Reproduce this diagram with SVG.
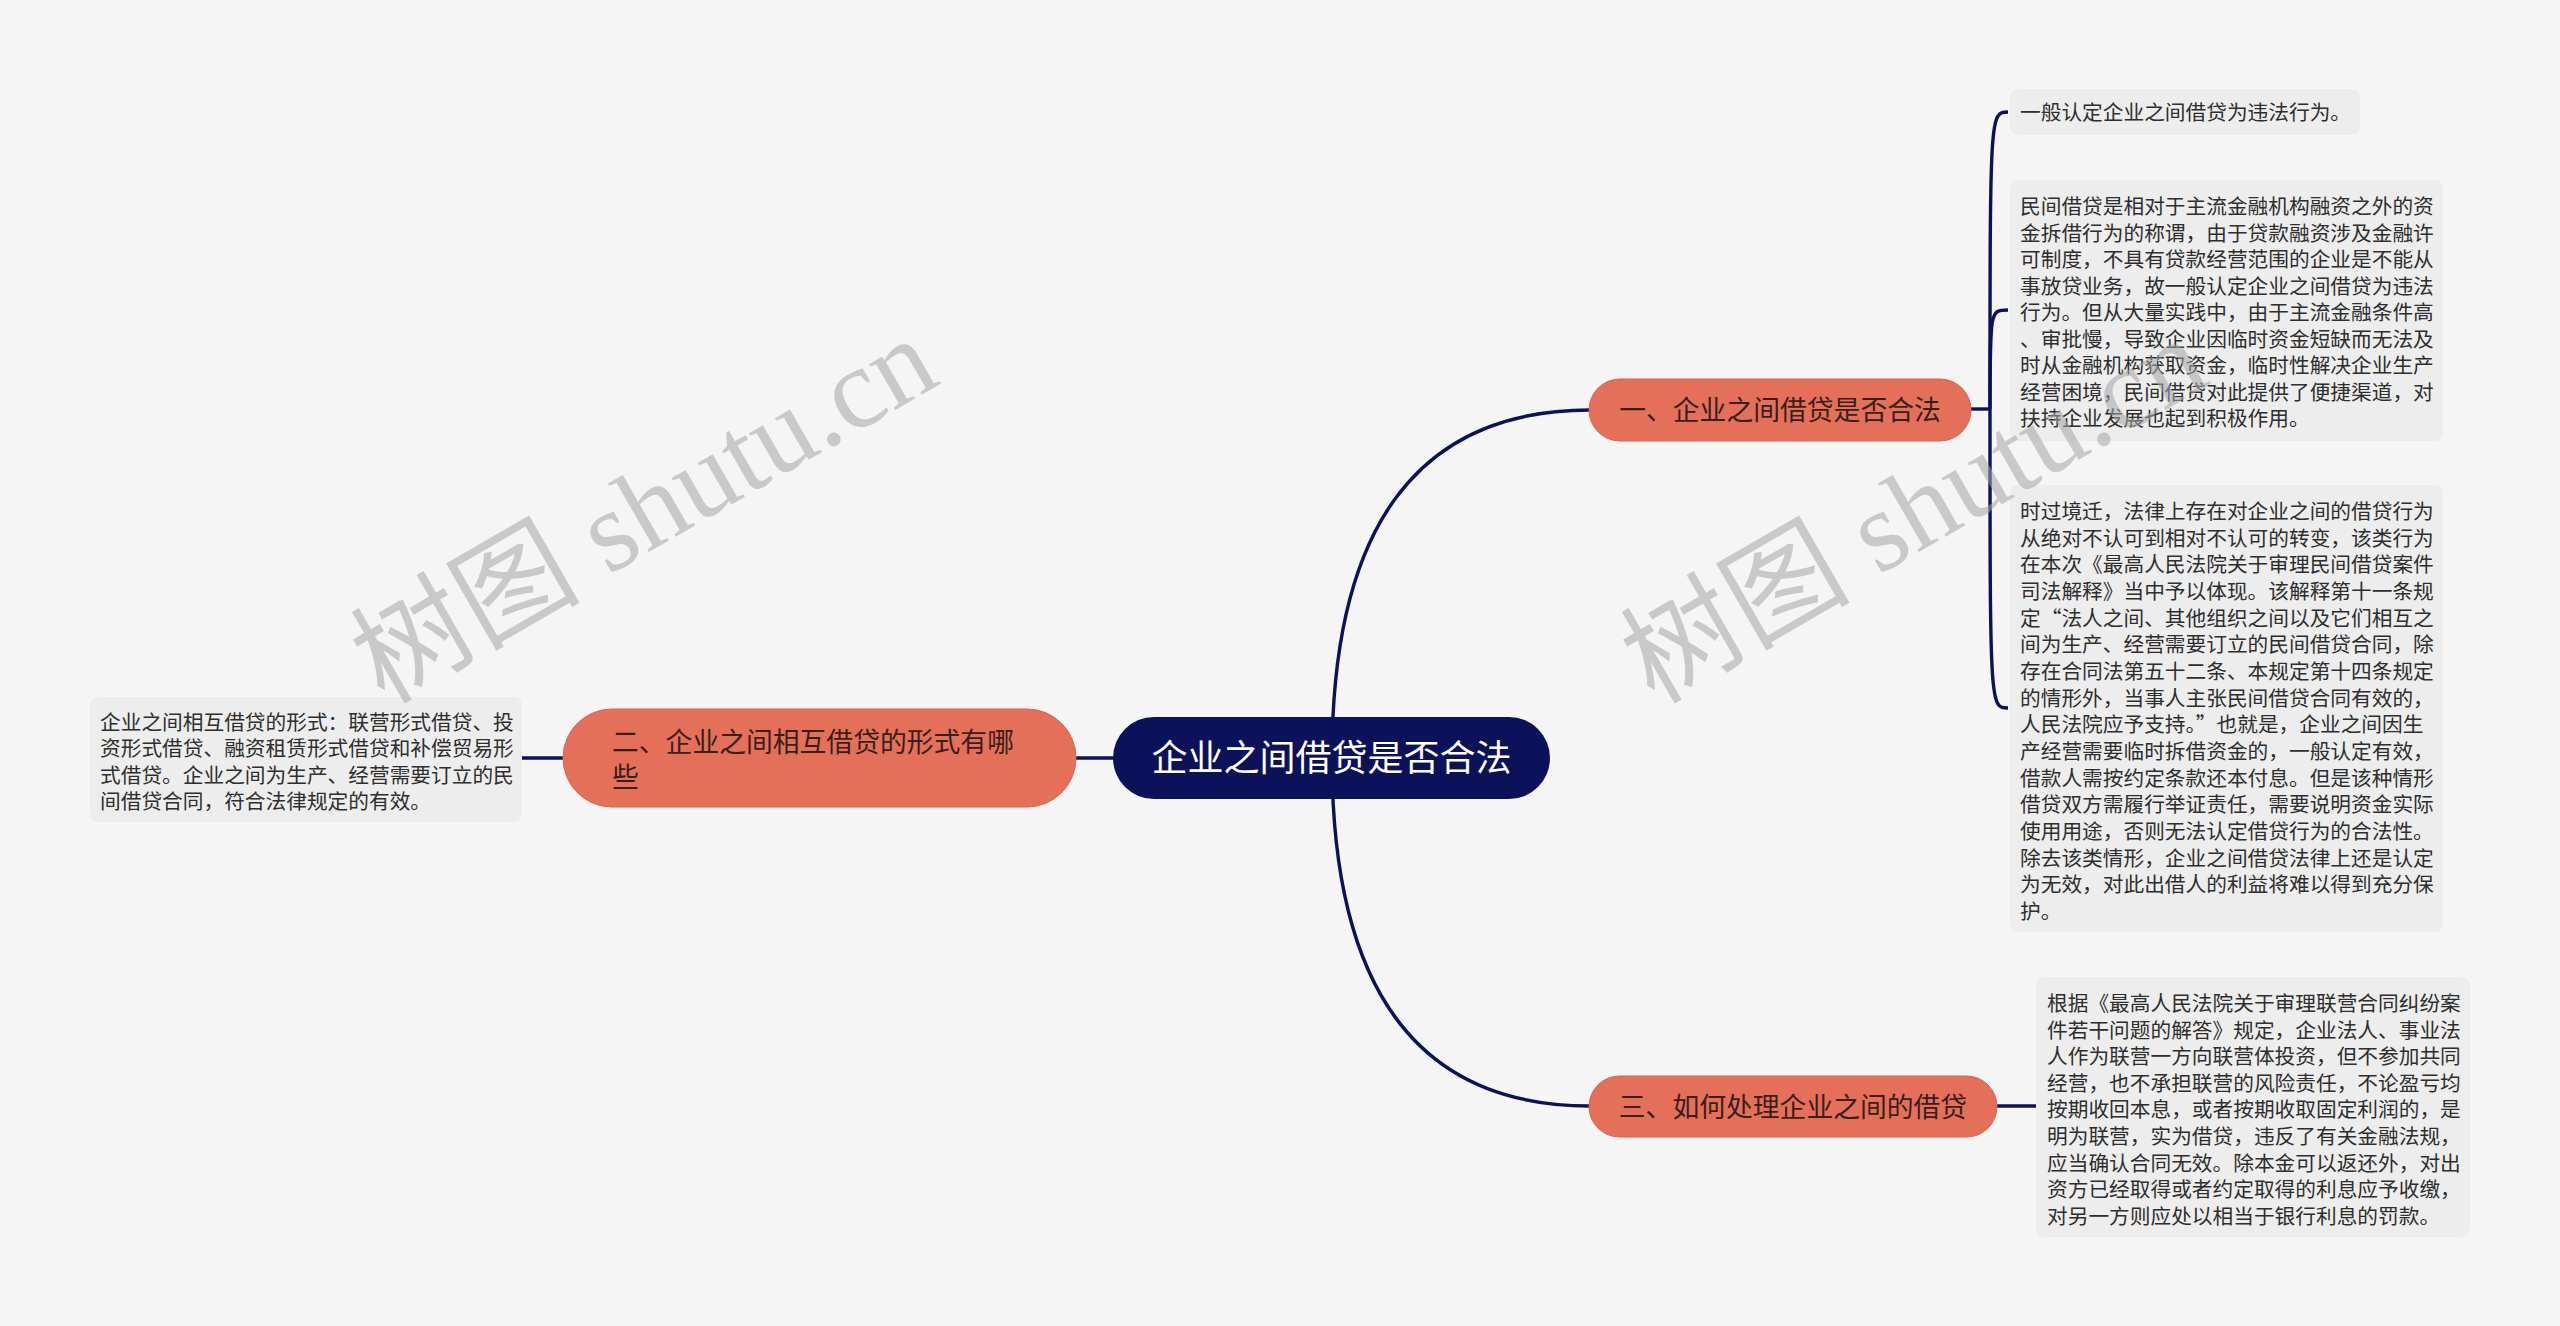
<svg xmlns="http://www.w3.org/2000/svg" width="2560" height="1326" viewBox="0 0 2560 1326">
<style>
text{font-family:"Noto Sans CJK SC","Noto Sans",sans-serif}
.conn{fill:none;stroke:#0c1259;stroke-width:3.4}
.root rect{fill:#0c1259}
.root text{fill:#ffffff;font-size:36px}
.br rect{fill:#e4705a;stroke:#d9644f;stroke-width:1}
.br text{fill:#3a1e1a;font-size:26.8px}
.leaf rect{fill:#ededed}
.leaf text{fill:#2e2e2e;font-size:20.7px}
.wm{font-family:"Liberation Serif","Noto Sans CJK SC",serif;font-size:115px;fill:#a6a6a6;opacity:0.55}
</style>
<rect width="2560" height="1326" fill="#f5f5f5"/>

<g id="connectors">
<path class="conn" d="M1332 758 Q1332 410 1590 410"/>
<path class="conn" d="M1332 758 Q1332 1106 1590 1106"/>
<path class="conn" d="M1076 758 H1113"/>
<path class="conn" d="M522 758 H563"/>
<path class="conn" d="M1971 409 H1990"/>
<path class="conn" d="M1990 409 C1990 112 1990 112 2008 112"/>
<path class="conn" d="M1990 409 C1990 310 1990 310 2008 310"/>
<path class="conn" d="M1990 409 C1990 708 1990 708 2008 708"/>
<path class="conn" d="M1997 1106 H2036"/>
</g>

<g id="root" class="root">
<rect x="1113" y="717" width="437" height="82" rx="41"/>
<text x="1331.5" y="771" text-anchor="middle">企业之间借贷是否合法</text>
</g>

<g id="branch1" class="br">
<rect x="1589" y="379" width="382" height="62" rx="31"/>
<text x="1780" y="420" text-anchor="middle">一、企业之间借贷是否合法</text>
</g>

<g id="branch2" class="br">
<rect x="563" y="709" width="513" height="98" rx="49"/>
<text x="612" y="752">二、企业之间相互借贷的形式有哪<tspan x="612" y="787">些</tspan></text>
</g>

<g id="branch3" class="br">
<rect x="1589" y="1076" width="408" height="61" rx="30.5"/>
<text x="1793" y="1117" text-anchor="middle">三、如何处理企业之间的借贷</text>
</g>

<g id="leaf1" class="leaf">
<rect x="2010" y="89" width="350" height="46" rx="8"/>
<text x="2020" y="120">一般认定企业之间借贷为违法行为。</text>
</g>

<g id="leaf2" class="leaf">
<rect x="2010" y="180" width="433" height="261" rx="8"/>
<text x="2020" y="214">民间借贷是相对于主流金融机构融资之外的资<tspan x="2020" dy="26.5">金拆借行为的称谓，由于贷款融资涉及金融许</tspan><tspan x="2020" dy="26.5">可制度，不具有贷款经营范围的企业是不能从</tspan><tspan x="2020" dy="26.5">事放贷业务，故一般认定企业之间借贷为违法</tspan><tspan x="2020" dy="26.5">行为。但从大量实践中，由于主流金融条件高</tspan><tspan x="2020" dy="26.5">、审批慢，导致企业因临时资金短缺而无法及</tspan><tspan x="2020" dy="26.5">时从金融机构获取资金，临时性解决企业生产</tspan><tspan x="2020" dy="26.5">经营困境，民间借贷对此提供了便捷渠道，对</tspan><tspan x="2020" dy="26.5">扶持企业发展也起到积极作用。</tspan></text>
</g>

<g id="leaf3" class="leaf">
<rect x="2010" y="485" width="433" height="447" rx="8"/>
<text x="2020" y="519">时过境迁，法律上存在对企业之间的借贷行为<tspan x="2020" dy="26.67">从绝对不认可到相对不认可的转变，该类行为</tspan><tspan x="2020" dy="26.67">在本次《最高人民法院关于审理民间借贷案件</tspan><tspan x="2020" dy="26.67">司法解释》当中予以体现。该解释第十一条规</tspan><tspan x="2020" dy="26.67">定“法人之间、其他组织之间以及它们相互之</tspan><tspan x="2020" dy="26.67">间为生产、经营需要订立的民间借贷合同，除</tspan><tspan x="2020" dy="26.67">存在合同法第五十二条、本规定第十四条规定</tspan><tspan x="2020" dy="26.67">的情形外，当事人主张民间借贷合同有效的，</tspan><tspan x="2020" dy="26.67">人民法院应予支持。”也就是，企业之间因生</tspan><tspan x="2020" dy="26.67">产经营需要临时拆借资金的，一般认定有效，</tspan><tspan x="2020" dy="26.67">借款人需按约定条款还本付息。但是该种情形</tspan><tspan x="2020" dy="26.67">借贷双方需履行举证责任，需要说明资金实际</tspan><tspan x="2020" dy="26.67">使用用途，否则无法认定借贷行为的合法性。</tspan><tspan x="2020" dy="26.67">除去该类情形，企业之间借贷法律上还是认定</tspan><tspan x="2020" dy="26.67">为无效，对此出借人的利益将难以得到充分保</tspan><tspan x="2020" dy="26.67">护。</tspan></text>
</g>

<g id="leaf4" class="leaf">
<rect x="2036" y="977" width="434" height="260" rx="8"/>
<text x="2047" y="1011">根据《最高人民法院关于审理联营合同纠纷案<tspan x="2047" dy="26.6">件若干问题的解答》规定，企业法人、事业法</tspan><tspan x="2047" dy="26.6">人作为联营一方向联营体投资，但不参加共同</tspan><tspan x="2047" dy="26.6">经营，也不承担联营的风险责任，不论盈亏均</tspan><tspan x="2047" dy="26.6">按期收回本息，或者按期收取固定利润的，是</tspan><tspan x="2047" dy="26.6">明为联营，实为借贷，违反了有关金融法规，</tspan><tspan x="2047" dy="26.6">应当确认合同无效。除本金可以返还外，对出</tspan><tspan x="2047" dy="26.6">资方已经取得或者约定取得的利息应予收缴，</tspan><tspan x="2047" dy="26.6">对另一方则应处以相当于银行利息的罚款。</tspan></text>
</g>

<g id="leaf5" class="leaf">
<rect x="90" y="697" width="432" height="125" rx="8"/>
<text x="100" y="730">企业之间相互借贷的形式：联营形式借贷、投<tspan x="100" dy="26.4">资形式借贷、融资租赁形式借贷和补偿贸易形</tspan><tspan x="100" dy="26.4">式借贷。企业之间为生产、经营需要订立的民</tspan><tspan x="100" dy="26.4">间借贷合同，符合法律规定的有效。</tspan></text>
</g>

<g id="watermarks">
<text class="wm" transform="translate(384 705) rotate(-30)">树图 shutu.cn</text>
<text class="wm" transform="translate(1654 705) rotate(-30)">树图 shutu.cn</text>
</g>
</svg>
